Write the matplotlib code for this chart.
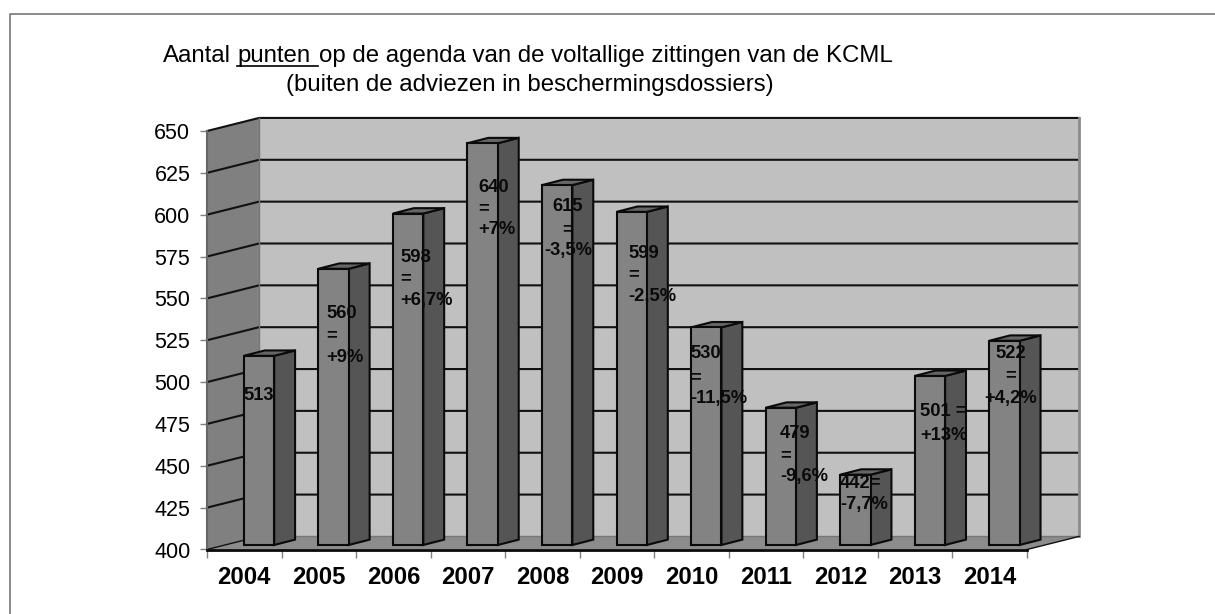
import matplotlib
matplotlib.use("Agg")
import matplotlib.pyplot as plt
from matplotlib.lines import Line2D

plt.rcParams["font.family"] = ["Liberation Sans", "DejaVu Sans"]

years = ["2004", "2005", "2006", "2007", "2008", "2009", "2010", "2011", "2012", "2013", "2014"]
punten = [513, 565, 598, 640, 615, 599, 530, 482, 442, 501, 522]
y_ticks = [400, 425, 450, 475, 500, 525, 550, 575, 600, 625, 650]

labels = [
    ["513"],
    ["560", "=", "+9%"],
    ["598", "=", "+6,7%"],
    ["640", "=", "+7%"],
    ["615", "=", "-3,5%"],
    ["599", "=", "-2,5%"],
    ["530", "=", "-11,5%"],
    ["479", "=", "-9,6%"],
    ["442=", "-7,7%"],
    ["501 =", "+13%"],
    ["522", "=", "+4,2%"],
]

# layout of the labels, in pixels: x, y of each line, alignment
label_pos = [
    (243, [396], "left"),
    (326, [313, 336, 357], "left"),
    (400, [257, 279, 301], "left"),
    (478, [187, 209, 230], "left"),
    (568, [207, 230, 250], "center"),
    (628, [253, 275, 296], "left"),
    (690, [354, 378, 398], "left"),
    (780, [433, 456, 476], "left"),
    (840, [483, 504], "left"),
    (920, [412, 435], "left"),
    (1011, [354, 376, 398], "center"),
]

W, H = 1215, 614
fig = plt.figure(figsize=(W / 100, H / 100), dpi=100)
ax = fig.add_axes([207 / W, 1 - 549.5 / H, 820 / W, 418.5 / H])
ax.set_xlim(0, 11)
ax.set_ylim(400, 650)

# depth of the fake 3d box and of the bars, in data units
dx, dy = 0.698, 7.8
bar_dx, bar_dy = 0.28, 3.2
bar_w = 0.407
bar_off = 0.698
bar_base = 402.7

ymin, ymax = 400, 650
ax.fill([dx, 11 + dx, 11 + dx, dx], [ymin + dy, ymin + dy, ymax + dy, ymax + dy],
        color="#c0c0c0", clip_on=False, zorder=1, lw=0)
ax.fill([0, dx, dx, 0], [ymin, ymin + dy, ymax + dy, ymax], color="#808080",
        clip_on=False, zorder=1, lw=0)
ax.fill([0, 11, 11 + dx, dx], [ymin, ymin, ymin + dy, ymin + dy], color="#8c8c8c",
        clip_on=False, zorder=1, lw=0)

for t in y_ticks:
    if t > ymin:
        ax.plot([0, dx, 11 + dx], [t, t + dy, t + dy], color="#111111", lw=1.5,
                clip_on=False, zorder=2, solid_joinstyle="miter")
ax.plot([11 + dx, 11 + dx], [ymin + dy, ymax + dy], color="#8c8c8c", lw=2, clip_on=False, zorder=2)
ax.plot([dx, dx], [ymin + dy, ymax + dy], color="#777777", lw=1, clip_on=False, zorder=2)
ax.plot([dx, 11 + dx], [ymin + dy, ymin + dy], color="#777777", lw=1, clip_on=False, zorder=2)
ax.plot([0, dx], [ymin, ymin + dy], color="#111111", lw=1, clip_on=False, zorder=2)
ax.plot([11, 11 + dx], [ymin, ymin + dy], color="#111111", lw=1, clip_on=False, zorder=2)

for i, v in enumerate(punten):
    x0 = i + bar_off - bar_w / 2
    x1 = x0 + bar_w
    top = bar_base + v - ymin
    ax.bar(x0, v - ymin, width=bar_w, bottom=bar_base, align="edge", color="#838383",
           edgecolor="#0a0a0a", linewidth=1.5, zorder=4, clip_on=False)
    ax.fill([x1, x1 + bar_dx, x1 + bar_dx, x1],
            [bar_base, bar_base + bar_dy, top + bar_dy, top],
            facecolor="#555555", edgecolor="#0a0a0a", lw=1.5, zorder=3, clip_on=False)
    ax.fill([x0, x0 + bar_dx, x1 + bar_dx, x1],
            [top, top + bar_dy, top + bar_dy, top],
            facecolor="#666666", edgecolor="#0a0a0a", lw=1.5, zorder=3, clip_on=False)

for s in ["top", "right"]:
    ax.spines[s].set_visible(False)
ax.spines["left"].set_color("#666666")
ax.spines["left"].set_linewidth(1.5)
ax.spines["bottom"].set_color("#0a0a0a")
ax.spines["bottom"].set_linewidth(2)
for s in ax.spines.values():
    s.set_zorder(5)
ax.patch.set_visible(False)

ax.set_yticks(y_ticks)
ax.set_xticks(range(12))
ax.set_xticklabels([])
ax.set_xticks([i + 0.5 for i in range(11)], minor=True)
ax.set_xticklabels(years, minor=True, fontsize=17.2, fontweight="bold")
ax.tick_params(axis="x", which="major", length=6, width=1, color="#808080")
ax.tick_params(axis="x", which="minor", length=0, pad=12)
ax.tick_params(axis="y", length=5, width=1, color="#808080", labelsize=15.5, pad=7)


def px_text(x, y, s, **kw):
    return fig.text(x / W, 1 - y / H, s, zorder=10, **kw)


# titel
title_size = 17.3
px_text(163, 62, "Aantal", fontsize=title_size, va="baseline")
px_text(237, 62, "punten", fontsize=title_size, va="baseline")
px_text(319, 62, "op de agenda van de voltallige zittingen van de KCML", fontsize=title_size, va="baseline")
px_text(286, 90.5, "(buiten de adviezen in beschermingsdossiers)", fontsize=title_size, va="baseline")
fig.add_artist(Line2D([237 / W, 318 / W], [1 - 65.5 / H, 1 - 65.5 / H], color="black", lw=1.2))

# labels op de balken
for lines, (x, ys, ha) in zip(labels, label_pos):
    for line, y in zip(lines, ys):
        px_text(x, y, line, fontsize=13.2, fontweight="bold", va="center", ha=ha, color="#0a0a0a")

# kader
fig.add_artist(Line2D([10.5 / W, 10.5 / W, 1], [0, 1 - 13.5 / H, 1 - 13.5 / H], color="#777777", lw=1.2))

fig.savefig("out.png", dpi=100)
